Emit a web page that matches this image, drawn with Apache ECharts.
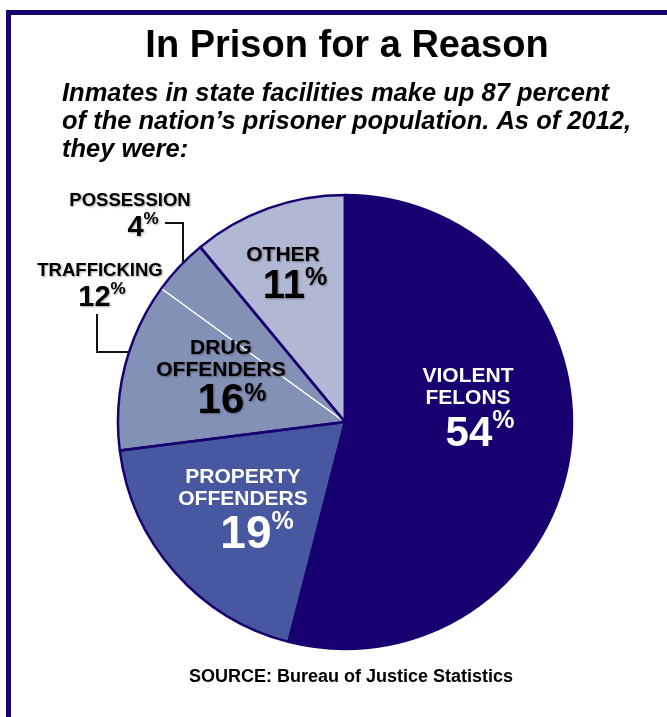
<!DOCTYPE html>
<html><head><meta charset="utf-8">
<script src="https://cdn.jsdelivr.net/npm/echarts@6/dist/echarts.min.js"></script>
<style>html,body{margin:0;padding:0;background:#fff}#c{width:667px;height:717px}</style>
</head><body><div id="c"></div>
<script>
// ---- data ----
const categories = ['VIOLENT FELONS', 'PROPERTY OFFENDERS', 'DRUG OFFENDERS', 'OTHER'];
const shares = [54, 19, 16, 11];
const drugCategories = ['TRAFFICKING', 'POSSESSION'];
const drugShares = [12, 4];
const titleText = 'In Prison for a Reason';
const subtitleLines = ['Inmates in state facilities make up 87 percent',
  'of the nation\u2019s prisoner population. As of 2012,', 'they were:'];
const sourceText = 'SOURCE: Bureau of Justice Statistics';

// ---- styles / layout ----
const NAVY = '#170070';
const sliceColors = { 'VIOLENT FELONS': '#170070', 'PROPERTY OFFENDERS': '#4858a0', 'DRUG OFFENDERS': '#8491b6', 'OTHER': '#b0b8d3' };
const textColors = { 'VIOLENT FELONS': '#fff', 'PROPERTY OFFENDERS': '#fff', 'DRUG OFFENDERS': '#000', 'OTHER': '#000' };
const FONT = '"Liberation Sans", Arial, Helvetica, sans-serif';
const cx = 345, cy = 422, R = 227;
const mainLabelPos = { 'VIOLENT FELONS': [468, 412], 'PROPERTY OFFENDERS': [243, 513], 'DRUG OFFENDERS': [221, 379], 'OTHER': [283, 276] };
const numPad = { 'VIOLENT FELONS': 24, 'PROPERTY OFFENDERS': 28, 'DRUG OFFENDERS': 22, 'OTHER': 24 };
const numSize = { 'VIOLENT FELONS': 42, 'PROPERTY OFFENDERS': 46, 'DRUG OFFENDERS': 42, 'OTHER': 40 };
const numLine = { 'VIOLENT FELONS': 50, 'PROPERTY OFFENDERS': 50, 'DRUG OFFENDERS': 39, 'OTHER': 42 };
const subLabelPos = { 'TRAFFICKING': [100, 288], 'POSSESSION': [130, 218] };
const subNumPad = { 'TRAFFICKING': 4, 'POSSESSION': 26 };

const shadow = { textShadowColor: 'rgba(0,0,0,0.35)', textShadowBlur: 2, textShadowOffsetX: 1, textShadowOffsetY: 1 };

// fill layer: drug slice split into trafficking / possession
const fillData = [];
categories.forEach((c, i) => {
  if (c === 'DRUG OFFENDERS') {
    drugCategories.forEach((d, j) => fillData.push({
      name: d, value: drugShares[j], itemStyle: { color: sliceColors[c] },
      label: {
        show: true, position: 'inside', color: '#000',
        formatter: '{t|' + d + '}\n{n|' + drugShares[j] + '}{p|%}',
        rich: {
          t: Object.assign({ fontSize: 18.5, fontWeight: 'bold', fontFamily: FONT, color: '#000', lineHeight: 20 }, shadow),
          n: Object.assign({ fontSize: 29, fontWeight: 'bold', fontFamily: FONT, color: '#000', lineHeight: 34, padding: [0, 0, 0, subNumPad[d]] }, shadow),
          p: Object.assign({ fontSize: 17, fontWeight: 'bold', fontFamily: FONT, color: '#000', lineHeight: 34, verticalAlign: 'top', padding: [0, 0, 10, 0] }, shadow)
        }
      }
    }));
  } else {
    fillData.push({ name: c, value: shares[i], itemStyle: { color: sliceColors[c] }, label: { show: false } });
  }
});

// outline layer with main labels
const outlineData = categories.map((c, i) => {
  const col = textColors[c];
  const sh = col === '#000' ? shadow : {};
  return {
    name: c, value: shares[i],
    label: {
      show: true, position: 'inside',
      formatter: c.split(' ').map(w => '{t|' + w + '}').join('\n') + '\n{n|' + shares[i] + '}{p|%}',
      rich: {
        t: Object.assign({ fontSize: 21, fontWeight: 'bold', fontFamily: FONT, color: col, lineHeight: 22 }, sh),
        n: Object.assign({ fontSize: numSize[c], fontWeight: 'bold', fontFamily: FONT, color: col, lineHeight: numLine[c], padding: [0, 0, 0, numPad[c]] }, sh),
        p: Object.assign({ fontSize: 25, fontWeight: 'bold', fontFamily: FONT, color: col, lineHeight: numLine[c], verticalAlign: 'top', padding: [0, 0, 10, 0] }, sh)
      }
    }
  };
});

// connectors from outside labels to the pie rim (end points on the circle)
const possX = 183, trafY = 352;
const possRim = cy - Math.sqrt(R * R - (possX - cx) * (possX - cx));
const trafRim = cx - Math.sqrt(R * R - (trafY - cy) * (trafY - cy));

const chart = echarts.init(document.getElementById('c'), null, { renderer: 'canvas' });
chart.setOption({
  animation: false,
  backgroundColor: '#fff',
  graphic: [
    { type: 'rect', shape: { x: 6, y: 10, width: 5, height: 707 }, style: { fill: NAVY } },
    { type: 'rect', shape: { x: 6, y: 10, width: 661, height: 5 }, style: { fill: NAVY } },
    { type: 'text', x: 347, y: 47, style: { text: titleText, font: 'bold 38px ' + FONT, fill: '#000', textAlign: 'center', textVerticalAlign: 'middle' } },
    { type: 'text', x: 62, y: 94, style: { text: subtitleLines[0], font: 'italic bold 25.5px ' + FONT, fill: '#000', textAlign: 'left', textVerticalAlign: 'middle' } },
    { type: 'text', x: 62, y: 122, style: { text: subtitleLines[1], font: 'italic bold 25.5px ' + FONT, fill: '#000', textAlign: 'left', textVerticalAlign: 'middle' } },
    { type: 'text', x: 62, y: 150, style: { text: subtitleLines[2], font: 'italic bold 25.5px ' + FONT, fill: '#000', textAlign: 'left', textVerticalAlign: 'middle' } },
    { type: 'text', x: 351, y: 677, style: { text: sourceText, font: 'bold 18px ' + FONT, fill: '#000', textAlign: 'center', textVerticalAlign: 'middle' } },
    { type: 'polyline', shape: { points: [[165, 223], [possX, 223], [possX, possRim]] }, style: { stroke: '#111', lineWidth: 2, fill: null } },
    { type: 'polyline', shape: { points: [[97, 314], [97, trafY], [trafRim, trafY]] }, style: { stroke: '#111', lineWidth: 2, fill: null } }
  ],
  series: [
    {
      type: 'pie', z: 2, silent: true, center: [cx, cy], radius: R, startAngle: 90, clockwise: true,
      itemStyle: { borderColor: '#ffffff', borderWidth: 1.3 },
      labelLine: { show: false },
      data: fillData,
      labelLayout: function (p) {
        const item = fillData[p.dataIndex];
        const pos = item && subLabelPos[item.name];
        if (!pos) return {};
        return { x: pos[0], y: pos[1], align: 'center', verticalAlign: 'middle' };
      }
    },
    {
      type: 'pie', z: 3, silent: true, center: [cx, cy], radius: R, startAngle: 90, clockwise: true,
      itemStyle: { color: 'rgba(0,0,0,0)', borderColor: NAVY, borderWidth: 2.5 },
      labelLine: { show: false },
      data: outlineData,
      labelLayout: function (p) {
        const item = outlineData[p.dataIndex];
        const pos = item && mainLabelPos[item.name];
        if (!pos) return {};
        return { x: pos[0], y: pos[1], align: 'center', verticalAlign: 'middle' };
      }
    }
  ]
});
</script></body></html>
